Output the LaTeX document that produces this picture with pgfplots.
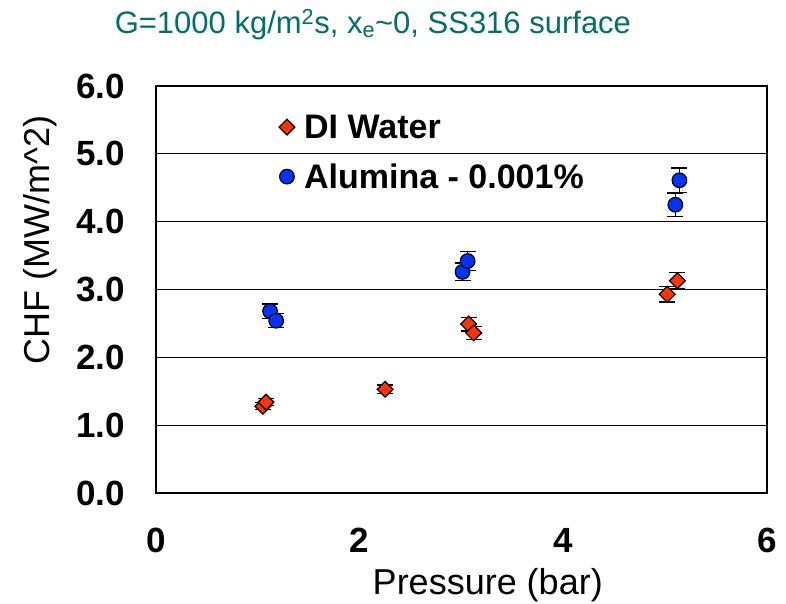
\documentclass[border=0pt]{standalone}
\usepackage{fontspec}
\setmainfont{Liberation Sans}
\usepackage{pgfplots}
\pgfplotsset{compat=1.18}
\definecolor{titleteal}{RGB}{0,112,106}
\definecolor{direda}{RGB}{255,51,0}
\definecolor{alublue}{RGB}{0,51,255}
\pgfplotsset{widemark/.style={legend image code/.code={%
  \path (0pt,0pt) (27pt,0pt);
  \path[##1] plot[only marks] coordinates {(12pt,0pt)};}}}
\begin{document}
\begin{tikzpicture}
\useasboundingbox (-156pt,-110pt) rectangle (630pt,493pt);
\begin{axis}[
  at={(0pt,0pt)}, anchor=south west,
  scale only axis, width=611pt, height=407pt,
  xmin=0, xmax=6, ymin=0, ymax=6,
  xtick={0,2,4,6}, ytick={0,1,2,3,4,5,6},
  major tick length=0pt,
  axis line style={black, line width=1.4pt},
  ymajorgrids, grid style={black, line width=1.1pt},
  /pgf/number format/assume math mode=true,
  yticklabel={\pgfmathprintnumber[fixed,fixed zerofill,precision=1]{\tick}},
  xticklabel={\pgfmathprintnumber{\tick}},
  ticklabel style={font=\fontsize{35}{40}\selectfont\bfseries, inner sep=0pt},
  yticklabel style={anchor=east, xshift=-31pt},
  xticklabel style={anchor=north, yshift=-35pt},
  title={G=1000 kg/m\textsuperscript{2}s, x\textsubscript{e}\char`\~0, SS316 surface},
  title style={at={(rel axis cs:0.355,1.135)}, anchor=center, font=\fontsize{31}{36}\selectfont, text=titleteal},
  xlabel={Pressure (bar)},
  ylabel={CHF (MW/m\char`\^2)},
  xlabel style={at={(rel axis cs:0.543,-0.226)}, anchor=center, font=\fontsize{36}{40}\selectfont},
  ylabel style={at={(rel axis cs:-0.19,0.622)}, anchor=center, rotate=0, font=\fontsize{36}{40}\selectfont},
  legend style={at={(rel axis cs:0.194,0.935)}, anchor=north west, draw=none, fill=none,
    font=\fontsize{34}{39}\selectfont\bfseries, row sep=20pt, inner sep=0pt},
  legend cell align=left,
  error bars/error bar style={black, line width=1.4pt},
  error bars/error mark options={rotate=90, mark size=8pt, line width=1.4pt, black},
  clip=false,
]
\addplot[only marks, widemark, mark=square*, mark size=5.6pt,
  mark options={rotate=45, fill=direda, draw=black, line width=1.2pt},
  error bars/.cd, y dir=both, y explicit]
  table[x=x, y=y, y error=e] {
x y e
1.05 1.28 0.051
1.08 1.34 0.054
2.25 1.53 0.061
3.07 2.49 0.100
3.12 2.36 0.094
5.02 2.93 0.117
5.12 3.13 0.125
};
\addlegendentry{DI Water}
\addplot[only marks, widemark, mark=*, mark size=7.3pt,
  mark options={fill=alublue, draw=black, line width=1.2pt},
  error bars/.cd, y dir=both, y explicit]
  table[x=x, y=y, y error=e] {
x y e
1.12 2.68 0.107
1.18 2.54 0.102
3.01 3.26 0.130
3.06 3.42 0.137
5.10 4.25 0.170
5.14 4.61 0.184
};
\addlegendentry{Alumina - 0.001\%}
\end{axis}
\end{tikzpicture}
\end{document}
